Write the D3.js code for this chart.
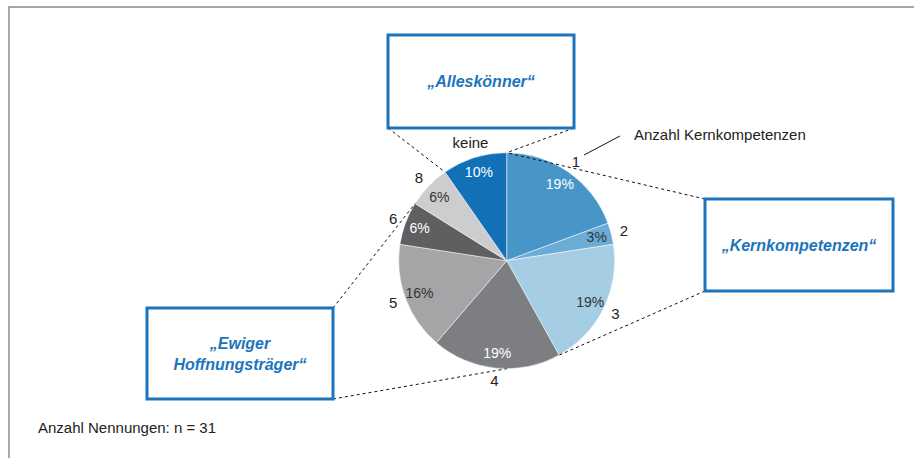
<!DOCTYPE html>
<html>
<head>
<meta charset="utf-8">
<script src="https://cdn.jsdelivr.net/npm/d3@7"></script>
<style>
  body { margin: 0; background: #fff; }
  svg { display: block; font-family: "Liberation Sans", Arial, sans-serif; }
</style>
</head>
<body>
<svg width="914" height="458"></svg>
<script>
// Anzahl Kernkompetenzen -> Anzahl Nennungen (n = 31)
const categories = ["1", "2", "3", "4", "5", "6", "8", "keine"];
const counts = [6, 1, 6, 6, 5, 2, 2, 3];
const colors = ["#4896c8", "#6aacd6", "#a5cde4", "#7d7e82", "#a5a5a7", "#5f5f61", "#cdcdcf", "#1170b6"];
const pctColors = ["#fff", "#333", "#333", "#fff", "#333", "#fff", "#333", "#fff"];
const boxTitles = [["„Alleskönner“"], ["„Kernkompetenzen“"], ["„Ewiger", "Hoffnungsträger“"]];

const total = d3.sum(counts);
const svg = d3.select("svg");

// frame
svg.append("path")
    .attr("d", "M9,458 V7 H914")
    .attr("fill", "none")
    .attr("stroke", "#8a8a8a")
    .attr("stroke-width", 1.5);

const cx = 506.7, cy = 260.7, r = 108;
const blue = "#1c75bc";

const data = categories.map((c, i) => ({ cat: c, value: counts[i], color: colors[i], pc: pctColors[i] }));
const pie = d3.pie().value(d => d.value).sort(null);
const arcs = pie(data);
const arc = d3.arc().innerRadius(0).outerRadius(r);
const pctArc = d3.arc().innerRadius(93).outerRadius(93);
const outArc = d3.arc().innerRadius(121).outerRadius(121);

const g = svg.append("g").attr("transform", `translate(${cx},${cy})`);

g.selectAll("path.slice")
    .data(arcs)
    .enter().append("path")
    .attr("class", "slice")
    .attr("d", arc)
    .attr("fill", d => d.data.color)
    .attr("stroke", "#fff")
    .attr("stroke-width", 0.5);

g.selectAll("text.pct")
    .data(arcs)
    .enter().append("text")
    .attr("class", "pct")
    .attr("transform", d => `translate(${pctArc.centroid(d)})`)
    .attr("text-anchor", "middle")
    .attr("dy", "0.35em")
    .attr("font-size", 14)
    .attr("fill", d => d.data.pc)
    .text(d => Math.round(d.data.value / total * 100) + "%");

g.selectAll("text.cat")
    .data(arcs)
    .enter().append("text")
    .attr("class", "cat")
    .attr("transform", d => `translate(${outArc.centroid(d)})`)
    .attr("text-anchor", "middle")
    .attr("dy", d => d.data.cat === "keine" ? "0.2em" : "0.35em")
    .attr("font-size", 15)
    .attr("fill", "#222")
    .text(d => d.data.cat);

// point on pie rim for an angle (radians, clockwise from top)
function rim(a) {
    return [cx + r * Math.sin(a), cy - r * Math.cos(a)];
}
const byCat = {};
arcs.forEach(d => byCat[d.data.cat] = d);

// boxes
const boxes = [
    { x: 388, y: 35, w: 186, h: 93 },
    { x: 705, y: 199, w: 188, h: 92 },
    { x: 147, y: 308, w: 186, h: 91 }
];

// dashed connectors: [from point, to rim angle]
const links = [
    [[boxes[0].x, boxes[0].y + boxes[0].h], byCat["keine"].startAngle],
    [[boxes[0].x + boxes[0].w, boxes[0].y + boxes[0].h], 0],
    [[boxes[1].x, boxes[1].y], 0],
    [[boxes[1].x, boxes[1].y + boxes[1].h], byCat["3"].endAngle],
    [[boxes[2].x + boxes[2].w, boxes[2].y], byCat["6"].endAngle],
    [[boxes[2].x + boxes[2].w, boxes[2].y + boxes[2].h], Math.PI]
];

svg.selectAll("line.link")
    .data(links)
    .enter().append("line")
    .attr("class", "link")
    .attr("x1", d => d[0][0])
    .attr("y1", d => d[0][1])
    .attr("x2", d => rim(d[1])[0])
    .attr("y2", d => rim(d[1])[1])
    .attr("stroke", "#111")
    .attr("stroke-width", 1)
    .attr("stroke-dasharray", "3 3");

boxes.forEach((b, i) => {
    svg.append("rect")
        .attr("x", b.x)
        .attr("y", b.y)
        .attr("width", b.w)
        .attr("height", b.h)
        .attr("fill", "#fff")
        .attr("stroke", blue)
        .attr("stroke-width", 3);
    const lines = boxTitles[i];
    const t = svg.append("text")
        .attr("x", b.x + b.w / 2)
        .attr("y", b.y + b.h / 2 - (lines.length - 1) * 10.5)
        .attr("text-anchor", "middle")
        .attr("font-size", 16)
        .attr("font-weight", "bold")
        .attr("font-style", "italic")
        .attr("fill", blue);
    lines.forEach((s, j) => {
        t.append("tspan")
            .attr("x", b.x + b.w / 2)
            .attr("dy", j === 0 ? "0.35em" : 21)
            .text(s);
    });
});

// legend-ish leader
svg.append("line")
    .attr("x1", 584).attr("y1", 155)
    .attr("x2", 620).attr("y2", 136)
    .attr("stroke", "#111")
    .attr("stroke-width", 1);

svg.append("text")
    .attr("x", 634)
    .attr("y", 140)
    .attr("font-size", 15)
    .attr("fill", "#222")
    .text("Anzahl Kernkompetenzen");

svg.append("text")
    .attr("x", 38)
    .attr("y", 433)
    .attr("font-size", 15)
    .attr("fill", "#222")
    .text("Anzahl Nennungen: n = " + total);
</script>
</body>
</html>
